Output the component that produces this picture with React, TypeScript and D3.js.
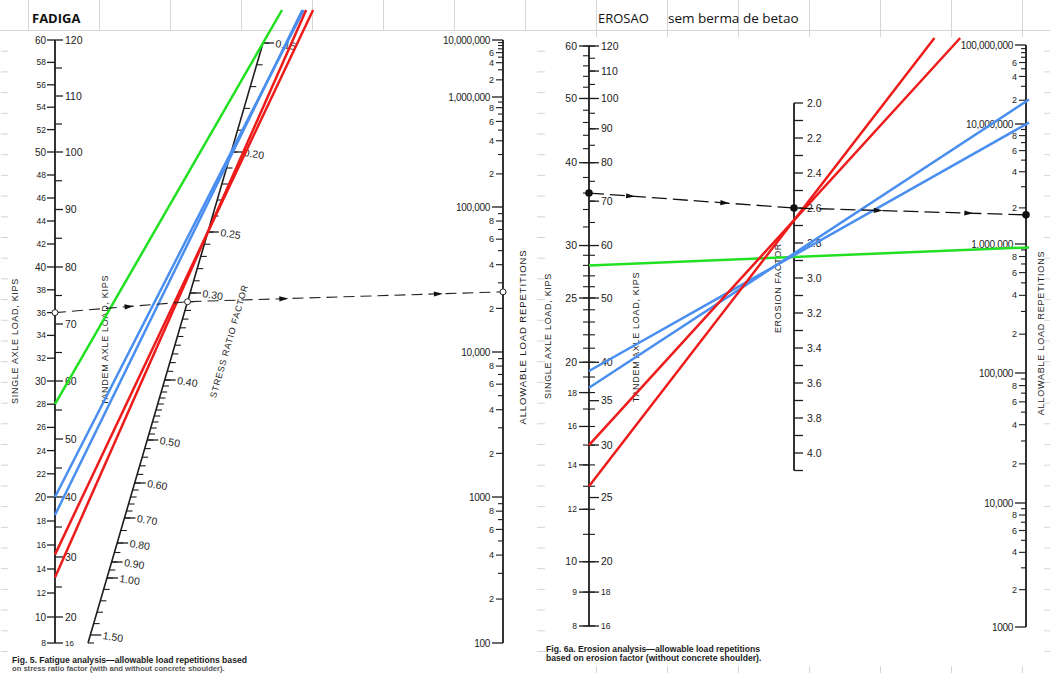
import React from 'react';
import * as d3 from 'd3';

// ---------- FADIGA (fatigue nomograph, left) ----------
const fatigueSingleLabels = [8, 10, 12, 14, 16, 18, 20, 22, 24, 26, 28, 30, 32, 34, 36, 38, 40, 42, 44, 46, 48, 50, 52, 54, 56, 58, 60];
const fatigueTandemLabels = [16, 20, 30, 40, 50, 60, 70, 80, 90, 100, 110, 120];
const fatigueTandemMinor = [25, 35, 45, 55, 65, 75, 85, 95, 105, 115];
const stressRatioLabels = [0.15, 0.2, 0.25, 0.3, 0.4, 0.5, 0.6, 0.7, 0.8, 0.9, 1.0, 1.5];
const fatigueRepsLabels = [100, 1000, 10000, 100000, 1000000, 10000000];

// coloured readings: single axle load -> stress ratio factor
const fatigueLineLoads = [28, 20, 18.5, 15.2, 13.3];
const fatigueLineRatios = [0.15, 0.2, 0.205, 0.25, 0.25];
const fatigueLineColors = ['green', 'blue', 'blue', 'red', 'red'];

// worked example (dashed)
const fatigueExLoad = 36;
const fatigueExRatio = 0.31;
const fatigueExReps = 26000;

// ---------- EROSAO (erosion nomograph, right) ----------
const erosionSingleLabels = [8, 9, 10, 12, 14, 16, 18, 20, 25, 30, 40, 50, 60];
const erosionTandemLabels = [16, 18, 20, 25, 30, 35, 40, 50, 60, 70, 80, 90, 100, 110, 120];
const erosionFactorLabels = [2.0, 2.2, 2.4, 2.6, 2.8, 3.0, 3.2, 3.4, 3.6, 3.8, 4.0];
const erosionRepsLabels = [1000, 10000, 100000, 1000000, 10000000, 100000000];

// coloured readings: single axle load -> erosion factor
const erosionLineLoads = [28, 19.4, 18.3, 15, 13];
const erosionLineFactors = [2.88, 2.87, 2.86, 2.67, 2.67];
const erosionLineColors = ['green', 'blue', 'blue', 'red', 'red'];

const erosionExLoad = 36;
const erosionExFactor = 2.6;
const erosionExReps = 1750000;

const COLORS: Record<string, string> = { green: '#22e022', blue: '#4a8ff0', red: '#ee1b1b' };
const FONT = "'Liberation Sans', Arial, sans-serif";
const INK = '#1c1c1c';
const GRID = '#d6d6d6';

// ---- scales (nomograph calibration) ----
const fatSingle = d3.scaleLinear().domain([8, 10, 20, 30, 40, 50, 60]).range([643, 617, 497, 381, 267, 152, 40]);
const fatStress = d3.scaleLinear().domain(stressRatioLabels).range([43, 152, 232, 293, 380, 440, 483, 518, 543, 562, 578, 635]);
const stressX = d3.scaleLinear().domain([43, 643]).range([263, 88]);
const fatReps = d3.scaleLog().domain(fatigueRepsLabels).range([643, 497, 352, 207, 97, 40]);

const eroSingle = d3.scaleLog().domain([8, 60]).range([626, 46]);
const eroFactor = d3.scaleLinear().domain([2, 4]).range([103, 453]);
const eroReps = d3.scaleLog().domain(erosionRepsLabels).range([627, 503, 373, 244, 124, 45]);

const FAT_AXIS_X = 55;
const FAT_REPS_X = 503;
const ERO_AXIS_X = 589;
const ERO_FACTOR_X = 794;
const ERO_REPS_X = 1026;

const fmtReps = (v: number) => (v >= 10000 ? d3.format(',')(v) : String(v));

function logMinor(labels: number[], scale: any) {
  const out: { v: number; label: boolean }[] = [];
  for (let i = 0; i < labels.length - 1; i++) {
    for (let m = 2; m <= 9; m++) {
      const v = labels[i] * m;
      const gap = scale(v) - scale(labels[i + 1]);
      out.push({ v, label: m % 2 === 0 && gap > 9 });
    }
  }
  return out;
}

function stressMinor() {
  const vals: number[] = [];
  const push = (a: number, b: number, s: number) => {
    for (let v = a; v < b - 1e-9; v += s) vals.push(Math.round(v * 100) / 100);
  };
  push(0.15, 0.5, 0.01);
  push(0.5, 0.7, 0.02);
  push(0.7, 1.0, 0.05);
  push(1.0, 1.5, 0.1);
  return vals;
}

function Arrow({ a, b, t }: { a: number[]; b: number[]; t: number }) {
  const x = a[0] + (b[0] - a[0]) * t;
  const y = a[1] + (b[1] - a[1]) * t;
  const ang = (Math.atan2(b[1] - a[1], b[0] - a[0]) * 180) / Math.PI;
  return <path d="M-6,-2.6L3,0L-6,2.6Z" fill="#111" transform={`translate(${x},${y}) rotate(${ang})`} />;
}

function VTitle({ x, y, text, angle = -90, size = 9, spacing = 0.7 }: any) {
  return (
    <text
      transform={`translate(${x},${y}) rotate(${angle})`}
      textAnchor="middle"
      fontFamily={FONT}
      fontSize={size}
      letterSpacing={spacing}
      fill={INK}
    >
      {text}
    </text>
  );
}

function LogAxis({ x, labels, scale }: { x: number; labels: number[]; scale: any }) {
  const minor = logMinor(labels, scale);
  const y0 = scale(labels[0]);
  const y1 = scale(labels[labels.length - 1]);
  return (
    <g fontFamily={FONT} fill={INK} fontSize={10}>
      <line x1={x} x2={x} y1={y0} y2={y1} stroke={INK} strokeWidth={1.8} />
      {labels.map((v) => (
        <g key={'M' + v}>
          <line x1={x - 11} x2={x} y1={scale(v)} y2={scale(v)} stroke={INK} strokeWidth={1.3} />
          <text x={x - 13} y={scale(v)} dy="0.35em" textAnchor="end" letterSpacing={-0.3}>
            {fmtReps(v)}
          </text>
        </g>
      ))}
      {minor.map((d) => (
        <g key={'m' + d.v}>
          <line x1={x - (d.label ? 7 : 5)} x2={x} y1={scale(d.v)} y2={scale(d.v)} stroke={INK} strokeWidth={1.1} />
          {d.label && (
            <text x={x - 9} y={scale(d.v)} dy="0.35em" textAnchor="end" fontSize={9}>
              {String(Math.round(d.v / Math.pow(10, Math.floor(Math.log10(d.v) + 1e-9))))}
            </text>
          )}
        </g>
      ))}
    </g>
  );
}

function extendLine(p0: number[], p1: number[], stop: (p: number[]) => number) {
  const t = stop(p0);
  return [p0[0] + (p1[0] - p0[0]) * t, p0[1] + (p1[1] - p0[1]) * t];
}

function FatiguePanel() {
  const stressTop = fatStress(0.15);
  const stressBot = 643;
  const sp = (r: number) => [stressX(fatStress(r)), fatStress(r)];

  const lines = fatigueLineLoads.map((load, i) => {
    const p0 = [FAT_AXIS_X, fatSingle(load)];
    const p1 = sp(fatigueLineRatios[i]);
    const end = extendLine(p0, p1, (p) => (10 - p[1]) / (p1[1] - p[1]));
    return { p0, end, color: COLORS[fatigueLineColors[i]] };
  });

  const exA = [FAT_AXIS_X, fatSingle(fatigueExLoad)];
  const exB = sp(fatigueExRatio);
  const exC = [FAT_REPS_X, fatReps(fatigueExReps)];

  return (
    <g>
      {/* single / tandem axle axis */}
      <g fontFamily={FONT} fill={INK} fontSize={10}>
        <line x1={FAT_AXIS_X} x2={FAT_AXIS_X} y1={fatSingle(60)} y2={fatSingle(8)} stroke={INK} strokeWidth={1.8} />
        {fatigueSingleLabels.map((v) => (
          <g key={'s' + v}>
            <line x1={FAT_AXIS_X - 8} x2={FAT_AXIS_X} y1={fatSingle(v)} y2={fatSingle(v)} stroke={INK} strokeWidth={1.3} />
            <text x={FAT_AXIS_X - 9} y={fatSingle(v)} dy="0.35em" textAnchor="end" fontSize={v % 10 === 0 ? 10 : 8.5}>
              {v}
            </text>
          </g>
        ))}
        {fatigueTandemLabels.map((v) => (
          <g key={'t' + v}>
            <line x1={FAT_AXIS_X} x2={FAT_AXIS_X + 8} y1={fatSingle(v / 2)} y2={fatSingle(v / 2)} stroke={INK} strokeWidth={1.3} />
            <text x={FAT_AXIS_X + 10} y={fatSingle(v / 2)} dy="0.35em" fontSize={v === 16 ? 8 : 10.5}>
              {v}
            </text>
          </g>
        ))}
        {fatigueTandemMinor.map((v) => (
          <line key={'tm' + v} x1={FAT_AXIS_X} x2={FAT_AXIS_X + 7} y1={fatSingle(v / 2)} y2={fatSingle(v / 2)} stroke={INK} strokeWidth={1.2} />
        ))}
      </g>

      {/* stress ratio factor axis */}
      <g fontFamily={FONT} fill={INK} fontSize={10.5}>
        <line x1={stressX(stressTop)} y1={stressTop} x2={stressX(stressBot)} y2={stressBot} stroke={INK} strokeWidth={1.6} />
        {stressMinor().map((v) => {
          const y = fatStress(v);
          const x = stressX(y);
          return <line key={'sr' + v} x1={x} x2={x + 6} y1={y} y2={y} stroke={INK} strokeWidth={1.1} />;
        })}
        <line x1={stressX(stressBot)} x2={stressX(stressBot) + 6} y1={stressBot} y2={stressBot} stroke={INK} strokeWidth={1.1} />
        {stressRatioLabels.map((v) => {
          const y = fatStress(v);
          const x = stressX(y);
          return (
            <g key={'srl' + v}>
              <line x1={x} x2={x + 11} y1={y} y2={y} stroke={INK} strokeWidth={1.3} />
              <text transform={`translate(${x + 12},${y + 4}) rotate(9)`}>{d3.format('.2f')(v)}</text>
            </g>
          );
        })}
      </g>

      <LogAxis x={FAT_REPS_X} labels={fatigueRepsLabels} scale={fatReps} />

      <VTitle x={18} y={341} text="SINGLE AXLE LOAD, KIPS" />
      <VTitle x={108} y={340} text="TANDEM AXLE LOAD, KIPS" />
      <VTitle x={232} y={342} text="STRESS RATIO FACTOR" angle={-74} />
      <VTitle x={526} y={337} text="ALLOWABLE LOAD REPETITIONS" size={9.5} spacing={0.9} />

      {lines.map((l, i) => (
        <line key={'fl' + i} x1={l.p0[0]} y1={l.p0[1]} x2={l.end[0]} y2={l.end[1]} stroke={l.color} strokeWidth={2.5} />
      ))}

      {/* dashed worked example */}
      <polyline
        points={[exA, exB, exC].map((p) => p.join(',')).join(' ')}
        fill="none"
        stroke="#222"
        strokeWidth={1.1}
        strokeDasharray="11 6"
      />
      <Arrow a={exA} b={exB} t={0.57} />
      <Arrow a={exB} b={exC} t={0.31} />
      <Arrow a={exB} b={exC} t={0.8} />
      {[exA, exB, exC].map((p, i) => (
        <circle key={'fc' + i} cx={p[0]} cy={p[1]} r={3} fill="#fff" stroke="#222" strokeWidth={1} />
      ))}

      <text x={12} y={663} fontFamily={FONT} fontSize={8.6} fontWeight="bold" fill={INK}>
        Fig. 5. Fatigue analysis—allowable load repetitions based
      </text>
      <text x={12} y={671} fontFamily={FONT} fontSize={7.6} fontWeight="bold" fill="#555">
        on stress ratio factor (with and without concrete shoulder).
      </text>
    </g>
  );
}

function ErosionPanel() {
  const singleMinor: number[] = [];
  for (let v = 8; v <= 30; v++) singleMinor.push(v);
  for (let v = 32; v <= 60; v += 2) singleMinor.push(v);
  const tandemMinor: number[] = [];
  for (let v = 16; v <= 60; v += 2) tandemMinor.push(v);
  for (let v = 65; v <= 120; v += 5) tandemMinor.push(v);
  const factorMinor: number[] = [];
  for (let v = 2.1; v < 4.15; v += 0.2) factorMinor.push(Math.round(v * 10) / 10);

  const lines = erosionLineLoads.map((load, i) => {
    const p0 = [ERO_AXIS_X, eroSingle(load)];
    const p1 = [ERO_FACTOR_X, eroFactor(erosionLineFactors[i])];
    const end = extendLine(p0, p1, (p) => {
      const tx = (ERO_REPS_X + 3 - p[0]) / (p1[0] - p[0]);
      const ty = (38 - p[1]) / (p1[1] - p[1]);
      return ty > 0 ? Math.min(tx, ty) : tx;
    });
    return { p0, end, color: COLORS[erosionLineColors[i]] };
  });

  const exA = [ERO_AXIS_X, eroSingle(erosionExLoad)];
  const exB = [ERO_FACTOR_X, eroFactor(erosionExFactor)];
  const exC = [ERO_REPS_X, eroReps(erosionExReps)];

  return (
    <g>
      <g fontFamily={FONT} fill={INK} fontSize={10}>
        <line x1={ERO_AXIS_X} x2={ERO_AXIS_X} y1={eroSingle(60)} y2={eroSingle(8)} stroke={INK} strokeWidth={1.8} />
        {singleMinor.map((v) => (
          <line key={'sm' + v} x1={ERO_AXIS_X - 6} x2={ERO_AXIS_X} y1={eroSingle(v)} y2={eroSingle(v)} stroke={INK} strokeWidth={1.1} />
        ))}
        {tandemMinor.map((v) => (
          <line key={'tm' + v} x1={ERO_AXIS_X} x2={ERO_AXIS_X + 6} y1={eroSingle(v / 2)} y2={eroSingle(v / 2)} stroke={INK} strokeWidth={1.1} />
        ))}
        {erosionSingleLabels.map((v) => (
          <g key={'s' + v}>
            <line x1={ERO_AXIS_X - 10} x2={ERO_AXIS_X} y1={eroSingle(v)} y2={eroSingle(v)} stroke={INK} strokeWidth={1.3} />
            <text x={ERO_AXIS_X - 12} y={eroSingle(v)} dy="0.35em" textAnchor="end" fontSize={v < 10 || (v < 20 && v !== 10) ? 8.5 : 10.5}>
              {v}
            </text>
          </g>
        ))}
        {erosionTandemLabels.map((v) => (
          <g key={'t' + v}>
            <line x1={ERO_AXIS_X} x2={ERO_AXIS_X + 10} y1={eroSingle(v / 2)} y2={eroSingle(v / 2)} stroke={INK} strokeWidth={1.3} />
            <text x={ERO_AXIS_X + 12} y={eroSingle(v / 2)} dy="0.35em" fontSize={v < 20 ? 8.5 : 10.5}>
              {v}
            </text>
          </g>
        ))}
      </g>

      <g fontFamily={FONT} fill={INK} fontSize={10.5}>
        <line x1={ERO_FACTOR_X} x2={ERO_FACTOR_X} y1={eroFactor(2)} y2={eroFactor(4.1)} stroke={INK} strokeWidth={1.8} />
        {factorMinor.map((v) => (
          <line key={'fm' + v} x1={ERO_FACTOR_X} x2={ERO_FACTOR_X + 9} y1={eroFactor(v)} y2={eroFactor(v)} stroke={INK} strokeWidth={1.3} />
        ))}
        {erosionFactorLabels.map((v) => (
          <g key={'f' + v}>
            <line x1={ERO_FACTOR_X} x2={ERO_FACTOR_X + 9} y1={eroFactor(v)} y2={eroFactor(v)} stroke={INK} strokeWidth={1.3} />
            <text x={ERO_FACTOR_X + 13} y={eroFactor(v)} dy="0.35em">
              {d3.format('.1f')(v)}
            </text>
          </g>
        ))}
      </g>

      <LogAxis x={ERO_REPS_X} labels={erosionRepsLabels} scale={eroReps} />

      <VTitle x={551} y={336} text="SINGLE AXLE LOAD, KIPS" />
      <VTitle x={639} y={337} text="TANDEM AXLE LOAD, KIPS" />
      <VTitle x={781} y={288} text="EROSION FACTOR" />
      <VTitle x={1044} y={333} text="ALLOWABLE LOAD REPETITIONS" size={9} spacing={0.8} />

      {lines.map((l, i) => (
        <line key={'el' + i} x1={l.p0[0]} y1={l.p0[1]} x2={l.end[0]} y2={l.end[1]} stroke={l.color} strokeWidth={2.5} />
      ))}

      <polyline
        points={[exA, exB, exC].map((p) => p.join(',')).join(' ')}
        fill="none"
        stroke="#111"
        strokeWidth={1.3}
        strokeDasharray="15 6"
      />
      <Arrow a={exA} b={exB} t={0.21} />
      <Arrow a={exA} b={exB} t={0.67} />
      <Arrow a={exB} b={exC} t={0.37} />
      <Arrow a={exB} b={exC} t={0.76} />
      {[exA, exB, exC].map((p, i) => (
        <circle key={'ec' + i} cx={p[0]} cy={p[1]} r={3.8} fill="#111" />
      ))}

      <text x={546} y={652} fontFamily={FONT} fontSize={8.6} fontWeight="bold" fill={INK}>
        Fig. 6a. Erosion analysis—allowable load repetitions
      </text>
      <text x={546} y={661} fontFamily={FONT} fontSize={8.6} fontWeight="bold" fill={INK}>
        based on erosion factor (without concrete shoulder).
      </text>
    </g>
  );
}

function SheetGrid() {
  const cols = d3.range(15).map((k) => 28.5 + 71 * k);
  const rows = d3.range(1, 31).map((k) => 30.5 + 20.7 * k);
  return (
    <g stroke={GRID} strokeWidth={1}>
      <line x1={0} x2={1050} y1={30.5} y2={30.5} />
      {cols.map((x) => (
        <line key={'c' + x} x1={x} x2={x} y1={0} y2={30} />
      ))}
      {cols.filter((x) => x > 560).map((x) => (
        <g key={'cb' + x}>
          <line x1={x} x2={x} y1={30} y2={37} />
          <line x1={x} x2={x} y1={666} y2={673} />
        </g>
      ))}
      {rows.map((y) => (
        <g key={'r' + y}>
          <line x1={1} x2={8} y1={y} y2={y} />
          <line x1={537} x2={545} y1={y} y2={y} />
          <line x1={1044} x2={1050} y1={y} y2={y} />
        </g>
      ))}
    </g>
  );
}

export default function App() {
  return (
    <svg width={1050} height={673} style={{ position: 'absolute', left: 0, top: 0, background: '#fff' }}>
      <rect width={1050} height={673} fill="#fff" />
      <SheetGrid />
      <text x={32} y={23} fontFamily="'Open Sans', sans-serif" fontWeight="bold" fontSize={13} fill="#111">
        FADIGA
      </text>
      <text x={598} y={23} fontFamily="'Open Sans', sans-serif" fontSize={13} fill="#111">
        EROSAO
      </text>
      <text x={668} y={23} fontFamily="'Open Sans', sans-serif" fontSize={13.5} fill="#111">
        sem berma de betao
      </text>
      <FatiguePanel />
      <ErosionPanel />
    </svg>
  );
}
